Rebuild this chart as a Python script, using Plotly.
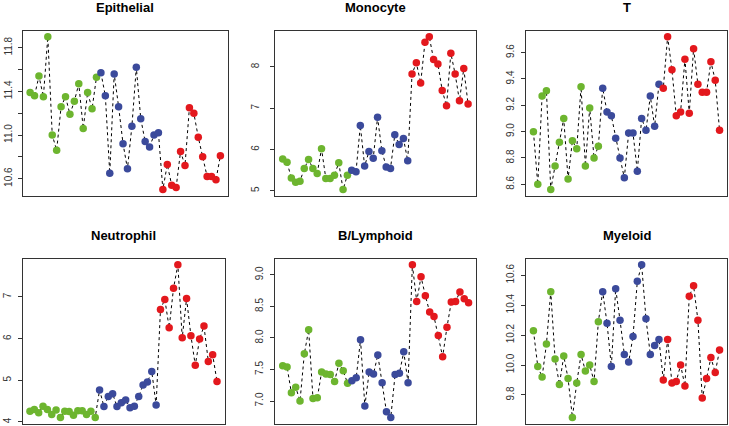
import plotly.graph_objects as go

titles = ["Epithelial", "Monocyte", "T", "Neutrophil", "B/Lymphoid", "Myeloid"]
n_green, n_blue, n_red = 16, 14, 14

epithelial = [11.39, 11.36, 11.54, 11.35, 11.90, 11.00, 10.86, 11.26, 11.35, 11.19, 11.31, 11.47, 11.06, 11.39, 11.24, 11.53,
              11.57, 11.36, 10.65, 11.56, 11.26, 10.92, 10.69, 11.08, 11.62, 11.15, 10.94, 10.89, 11.00, 11.02,
              10.50, 10.73, 10.54, 10.52, 10.85, 10.72, 11.25, 11.20, 10.98, 10.80, 10.62, 10.62, 10.59, 10.81]
monocyte = [5.77, 5.69, 5.31, 5.21, 5.23, 5.54, 5.76, 5.54, 5.42, 6.02, 5.30, 5.30, 5.38, 5.68, 5.03, 5.38,
            5.50, 5.46, 6.58, 5.60, 5.95, 5.79, 6.78, 5.97, 5.58, 5.54, 6.36, 6.12, 6.27, 5.73,
            7.83, 8.10, 7.61, 8.60, 8.73, 8.18, 8.07, 7.43, 7.06, 8.33, 7.83, 7.18, 7.96, 7.10]
t_cell = [9.00, 8.60, 9.27, 9.31, 8.56, 8.74, 8.92, 9.10, 8.64, 8.93, 8.87, 9.34, 8.74, 9.18, 8.80, 8.89,
          9.33, 9.15, 9.12, 8.95, 8.80, 8.65, 8.99, 8.99, 8.70, 9.10, 9.01, 9.27, 9.04, 9.36,
          9.33, 9.72, 9.47, 9.12, 9.15, 9.55, 9.14, 9.63, 9.36, 9.30, 9.30, 9.53, 9.39, 9.01]
neutrophil = [4.26, 4.30, 4.22, 4.38, 4.30, 4.18, 4.29, 4.11, 4.26, 4.25, 4.16, 4.27, 4.27, 4.18, 4.26, 4.11,
              4.77, 4.37, 4.61, 4.68, 4.37, 4.46, 4.53, 4.34, 4.38, 4.61, 4.89, 4.96, 5.21, 4.41,
              6.70, 6.94, 6.26, 7.21, 7.77, 6.02, 6.96, 6.07, 5.36, 5.99, 6.30, 5.45, 5.61, 4.97]
b_lymphoid = [7.56, 7.54, 7.13, 7.22, 7.00, 7.75, 8.13, 7.04, 7.05, 7.46, 7.43, 7.42, 7.31, 7.60, 7.48, 7.28,
              7.32, 7.37, 7.97, 6.92, 7.46, 7.43, 7.73, 7.29, 6.83, 6.74, 7.42, 7.44, 7.78, 7.29,
              9.16, 8.58, 8.97, 8.67, 8.41, 8.34, 8.04, 7.70, 8.17, 8.57, 8.58, 8.73, 8.62, 8.56]
myeloid = [10.23, 9.99, 9.92, 10.14, 10.49, 10.04, 9.87, 10.06, 9.91, 9.65, 9.88, 10.07, 9.96, 10.00, 9.89, 10.29,
           10.49, 10.28, 9.99, 10.51, 10.30, 10.07, 10.02, 10.19, 10.56, 10.67, 10.31, 10.07, 10.13, 10.17,
           9.90, 10.17, 9.88, 9.89, 10.00, 9.86, 10.46, 10.53, 10.30, 9.78, 9.91, 10.05, 9.95, 10.10]

tick_vals = [
    [10.6, 10.8, 11.0, 11.2, 11.4, 11.6, 11.8],
    [5, 6, 7, 8],
    [8.6, 8.8, 9.0, 9.2, 9.4, 9.6],
    [4, 5, 6, 7],
    [7.0, 7.5, 8.0, 8.5, 9.0],
    [9.8, 10.0, 10.2, 10.4, 10.6],
]
tick_text = [
    ["10.6", "", "11.0", "", "11.4", "", "11.8"],
    ["5", "6", "7", "8"],
    ["8.6", "8.8", "9.0", "9.2", "9.4", "9.6"],
    ["4", "5", "6", "7"],
    ["7.0", "7.5", "8.0", "8.5", "9.0"],
    ["9.8", "10.0", "10.2", "10.4", "10.6"],
]

series = [epithelial, monocyte, t_cell, neutrophil, b_lymphoid, myeloid]
group_colors = ["#6DB52F", "#3B4A9B", "#E3181D"]

W, H = 729, 426
# panel boxes in pixels: (left, right, top, bottom)
boxes = [
    (22.5, 228, 30.7, 195.7),
    (275.3, 475.5, 30.7, 195.7),
    (526, 727, 30.7, 195.7),
    (22.5, 224.5, 258.7, 423.5),
    (275.3, 476, 258.7, 423.5),
    (526, 727, 258.7, 423.5),
]
standoff = [2, 7, 3, 3, 3, 3]

fig = go.Figure()
n = len(epithelial)
x = list(range(1, n + 1))
colors = [group_colors[0]] * n_green + [group_colors[1]] * n_blue + [group_colors[2]] * n_red

layout = dict()
for i, (vals, title) in enumerate(zip(series, titles)):
    k = "" if i == 0 else str(i + 1)
    fig.add_trace(go.Scatter(
        x=x, y=vals, mode="lines+markers",
        line=dict(color="black", width=1, dash="3px,3px"),
        marker=dict(color=colors, size=7.5, line=dict(width=0)),
        xaxis="x" + k, yaxis="y" + k, showlegend=False, hoverinfo="y",
        cliponaxis=False,
    ))
    l, r, t, b = boxes[i]
    lo, hi = min(vals), max(vals)
    pad = (hi - lo) * 0.04
    xpad = (n - 1) * 0.04
    layout["xaxis" + k] = dict(
        domain=[l / W, r / W], range=[1 - xpad, n + xpad], anchor="y" + k,
        showticklabels=False, ticks="", showgrid=False, zeroline=False,
        showline=True, mirror=True, linecolor="#333333", linewidth=1,
        automargin=False,
    )
    layout["yaxis" + k] = dict(
        domain=[1 - b / H, 1 - t / H], range=[lo - pad, hi + pad], anchor="x" + k,
        tickvals=tick_vals[i], ticktext=tick_text[i], tickangle=-90,
        ticks="outside", ticklen=4, tickcolor="#333333", tickwidth=1,
        ticklabelstandoff=standoff[i],
        tickfont=dict(family="Liberation Sans, Arial", size=10, color="#333333"),
        showgrid=False, zeroline=False,
        showline=True, mirror=True, linecolor="#333333", linewidth=1,
        automargin=False,
    )

annotations = []
for i, title in enumerate(titles):
    l, r, t, b = boxes[i]
    annotations.append(dict(
        text="<b>" + title + "</b>", x=(l + r) / 2 / W, y=1 - (t - 23) / H,
        xref="paper", yref="paper", showarrow=False, xanchor="center", yanchor="middle",
        font=dict(family="Liberation Sans, Arial", size=13, color="black"),
    ))

fig.update_layout(
    width=W, height=H, margin=dict(l=0, r=0, t=0, b=0, autoexpand=False),
    paper_bgcolor="white", plot_bgcolor="white",
    annotations=annotations, **layout,
)
fig.write_html("out.html", config={"displayModeBar": False},
               post_script="document.body.style.margin='0';document.body.style.padding='0';document.body.style.overflow='hidden';")
